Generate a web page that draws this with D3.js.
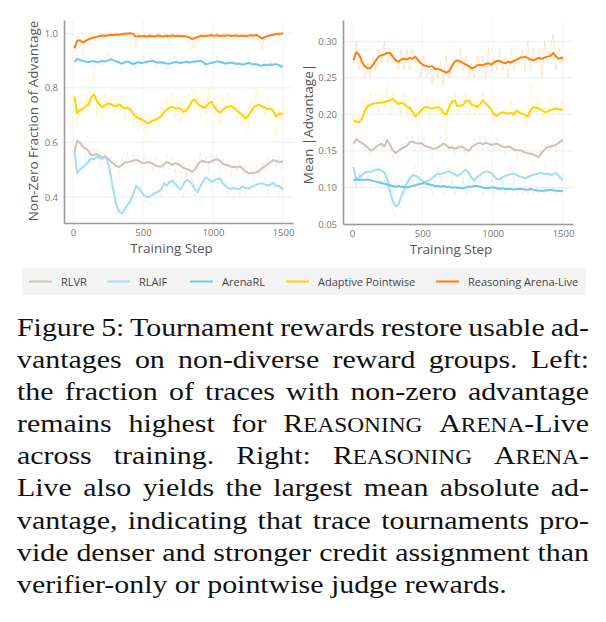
<!DOCTYPE html>
<html>
<head>
<meta charset="utf-8">
<script src="https://d3js.org/d3.v7.min.js"></script>
<style>
  body { margin: 0; background: #fff; }
</style>
</head>
<body>
<script>
// Two panels of training curves + legend + figure caption

// x grid shared by all series (every 20 steps, plus the last step)
const steps = d3.range(10, 1491, 20).concat([1500]);

const methods = ["RLVR", "RLAIF", "ArenaRL", "Adaptive Pointwise", "Reasoning Arena-Live"];
const colors  = ["#cfc2b9", "#a9dcec", "#74c6e9", "#ffd200", "#ff7f0e"];

// ---- Left panel: Non-Zero Fraction of Advantage (smoothed) ----
const fracRLVR = [0.565,0.605,0.6,0.584,0.578,0.568,0.553,0.555,0.558,0.55,
  0.546,0.548,0.541,0.53,0.522,0.513,0.51,0.518,0.526,0.528,
  0.53,0.533,0.535,0.532,0.527,0.524,0.528,0.526,0.522,0.516,
  0.512,0.512,0.52,0.528,0.523,0.518,0.524,0.521,0.514,0.506,
  0.503,0.5,0.492,0.5,0.518,0.53,0.532,0.528,0.526,0.531,
  0.536,0.538,0.532,0.522,0.518,0.516,0.51,0.511,0.508,0.512,
  0.506,0.494,0.488,0.487,0.489,0.49,0.496,0.505,0.512,0.52,
  0.528,0.535,0.533,0.527,0.529,0.53];
const fracRLAIF = [0.566,0.488,0.5,0.51,0.518,0.53,0.54,0.538,0.547,0.543,
  0.54,0.55,0.527,0.478,0.418,0.37,0.345,0.34,0.356,0.372,
  0.385,0.41,0.44,0.432,0.418,0.405,0.4,0.402,0.41,0.415,
  0.42,0.428,0.45,0.442,0.455,0.46,0.448,0.435,0.428,0.448,
  0.462,0.458,0.448,0.43,0.418,0.44,0.458,0.472,0.465,0.455,
  0.46,0.467,0.468,0.45,0.44,0.432,0.43,0.434,0.428,0.43,
  0.438,0.434,0.43,0.436,0.44,0.445,0.448,0.45,0.446,0.442,
  0.445,0.452,0.44,0.442,0.432,0.428];
const fracArena = [0.895,0.906,0.902,0.899,0.897,0.895,0.897,0.898,0.894,0.896,
  0.899,0.897,0.9,0.905,0.901,0.897,0.893,0.889,0.893,0.897,
  0.892,0.887,0.892,0.894,0.891,0.893,0.896,0.898,0.899,0.895,
  0.892,0.894,0.891,0.889,0.888,0.892,0.895,0.893,0.891,0.894,
  0.896,0.893,0.895,0.897,0.898,0.899,0.894,0.886,0.889,0.892,
  0.894,0.897,0.895,0.892,0.889,0.891,0.893,0.89,0.887,0.889,
  0.885,0.888,0.891,0.889,0.886,0.887,0.883,0.882,0.885,0.884,
  0.886,0.885,0.887,0.884,0.878,0.879];
const fracPointwise = [0.768,0.708,0.719,0.722,0.733,0.738,0.765,0.776,0.752,0.738,
  0.729,0.736,0.743,0.74,0.735,0.733,0.74,0.73,0.726,0.727,
  0.72,0.706,0.694,0.688,0.684,0.68,0.67,0.674,0.68,0.682,
  0.69,0.695,0.712,0.72,0.728,0.73,0.724,0.726,0.722,0.712,
  0.718,0.731,0.752,0.757,0.742,0.734,0.728,0.73,0.744,0.748,
  0.73,0.716,0.709,0.72,0.728,0.731,0.733,0.726,0.718,0.708,
  0.702,0.688,0.697,0.712,0.728,0.735,0.738,0.732,0.728,0.722,
  0.724,0.716,0.694,0.704,0.706,0.706];
const fracLive = [0.945,0.972,0.975,0.966,0.972,0.978,0.982,0.985,0.987,0.99,
  0.992,0.99,0.993,0.995,0.994,0.996,0.995,0.997,0.998,0.999,
  1.0,0.998,0.987,0.99,0.989,0.99,0.988,0.991,0.989,0.99,
  0.992,0.99,0.989,0.991,0.99,0.992,0.99,0.991,0.989,0.99,
  0.988,0.985,0.979,0.982,0.986,0.99,0.991,0.99,0.992,0.993,
  0.991,0.993,0.99,0.992,0.991,0.993,0.99,0.992,0.991,0.99,
  0.992,0.99,0.991,0.993,0.992,0.994,0.988,0.981,0.986,0.99,
  0.993,0.995,0.997,0.998,0.999,1.0];

// raw (unsmoothed) per-step values, drawn faint behind
const fracRLVRRaw = [.55,.62,.58,.6,.55,.6,.52,.58,.55,.58,
  .5,.57,.52,.55,.5,.53,.48,.55,.5,.56,
  .51,.56,.52,.55,.5,.56,.51,.54,.49,.55,
  .48,.54,.5,.56,.5,.55,.49,.54,.48,.53,
  .47,.52,.46,.54,.5,.56,.51,.55,.5,.56,
  .52,.56,.5,.54,.49,.54,.48,.53,.49,.54,
  .48,.52,.46,.5,.47,.52,.48,.53,.5,.55,
  .51,.56,.51,.55,.5,.54];
const fracRLAIFRaw = [.58,.46,.53,.48,.55,.5,.57,.52,.58,.51,
  .57,.52,.55,.44,.42,.33,.36,.31,.38,.34,
  .4,.37,.46,.41,.44,.38,.42,.37,.43,.39,
  .45,.4,.48,.41,.47,.43,.5,.41,.45,.4,
  .49,.44,.47,.4,.44,.38,.48,.44,.5,.42,
  .48,.43,.5,.42,.46,.4,.45,.39,.46,.4,
  .47,.4,.45,.41,.47,.42,.48,.43,.47,.41,
  .46,.42,.47,.4,.45,.41];
const fracArenaRaw = [.88,.92,.89,.91,.88,.9,.91,.87,.9,.92,
  .88,.91,.93,.89,.92,.88,.9,.86,.9,.91,
  .88,.9,.87,.91,.89,.92,.88,.91,.9,.87,
  .91,.88,.9,.87,.91,.89,.92,.88,.9,.91,
  .88,.9,.91,.89,.92,.88,.91,.86,.9,.91,
  .88,.92,.89,.9,.87,.91,.89,.88,.9,.87,
  .9,.88,.91,.87,.89,.9,.87,.88,.9,.86,
  .9,.88,.9,.87,.89,.86];
const fracPointwiseRaw = [.78,.66,.75,.7,.78,.72,.8,.86,.7,.76,
  .68,.78,.72,.77,.7,.76,.71,.75,.68,.74,
  .7,.66,.72,.64,.7,.65,.62,.7,.66,.71,
  .65,.73,.68,.76,.7,.78,.69,.76,.67,.74,
  .7,.78,.8,.72,.78,.69,.76,.7,.8,.72,
  .7,.75,.66,.77,.7,.78,.71,.75,.68,.73,
  .66,.72,.64,.76,.7,.8,.72,.76,.7,.75,
  .68,.74,.62,.72,.68,.74];
const fracLiveRaw = [.93,.99,.97,.92,.99,.98,1,.97,.99,1,
  .98,1,.99,1,.98,1,.99,1,1,.99,
  1,.99,.95,1,.98,1,.97,1,.99,.98,
  1,.98,1,.99,.97,1,.99,.98,1,.98,
  .99,.97,.94,.99,.97,1,.98,1,.99,1,
  .98,1,.99,.97,1,.99,1,.98,1,.99,
  .98,1,.99,1,.97,1,.97,.94,.99,.98,
  1,.99,1,.99,1,1];

// ---- Right panel: Mean |Advantage| (smoothed) ----
const absRLVR = [0.16,0.166,0.163,0.161,0.158,0.155,0.151,0.152,0.155,0.158,
  0.16,0.156,0.165,0.158,0.151,0.147,0.15,0.153,0.155,0.157,
  0.162,0.163,0.161,0.16,0.161,0.158,0.156,0.155,0.153,0.153,
  0.155,0.157,0.16,0.158,0.154,0.155,0.153,0.154,0.156,0.155,
  0.152,0.15,0.155,0.158,0.16,0.161,0.159,0.161,0.16,0.158,
  0.159,0.16,0.158,0.156,0.155,0.156,0.155,0.152,0.151,0.151,
  0.15,0.148,0.147,0.146,0.145,0.143,0.142,0.148,0.152,0.155,
  0.156,0.157,0.158,0.161,0.164,0.165];
const absRLAIF = [0.128,0.11,0.113,0.117,0.12,0.122,0.121,0.123,0.124,0.125,
  0.123,0.12,0.112,0.095,0.081,0.074,0.076,0.088,0.097,0.106,
  0.112,0.117,0.116,0.114,0.11,0.108,0.108,0.11,0.113,0.116,
  0.119,0.118,0.12,0.121,0.122,0.12,0.118,0.116,0.118,0.122,
  0.124,0.12,0.113,0.11,0.114,0.117,0.12,0.122,0.121,0.12,
  0.115,0.112,0.111,0.114,0.116,0.117,0.118,0.119,0.117,0.115,
  0.114,0.112,0.114,0.116,0.117,0.118,0.119,0.12,0.118,0.119,
  0.117,0.118,0.12,0.116,0.111,0.11];
const absArena = [0.11,0.111,0.11,0.111,0.11,0.111,0.11,0.109,0.108,0.107,
  0.106,0.105,0.104,0.103,0.102,0.101,0.102,0.101,0.101,0.1,
  0.101,0.102,0.103,0.104,0.105,0.106,0.105,0.104,0.103,0.102,
  0.102,0.101,0.102,0.101,0.101,0.1,0.1,0.1,0.099,0.099,
  0.1,0.101,0.101,0.102,0.102,0.101,0.1,0.099,0.099,0.1,
  0.1,0.099,0.098,0.099,0.098,0.098,0.098,0.097,0.098,0.098,
  0.098,0.097,0.097,0.098,0.097,0.096,0.096,0.095,0.096,0.096,
  0.097,0.096,0.096,0.095,0.095,0.096];
const absPointwise = [0.192,0.19,0.189,0.194,0.204,0.211,0.213,0.215,0.215,0.216,
  0.216,0.217,0.218,0.219,0.221,0.218,0.214,0.216,0.214,0.211,
  0.209,0.204,0.197,0.201,0.205,0.209,0.21,0.209,0.208,0.209,
  0.21,0.208,0.202,0.2,0.21,0.217,0.219,0.211,0.212,0.213,
  0.218,0.219,0.213,0.212,0.21,0.214,0.219,0.215,0.211,0.206,
  0.2,0.198,0.201,0.203,0.202,0.201,0.202,0.2,0.205,0.202,
  0.201,0.199,0.197,0.206,0.21,0.209,0.208,0.206,0.203,0.204,
  0.206,0.207,0.208,0.207,0.206,0.207];
const absLive = [0.274,0.285,0.282,0.272,0.266,0.263,0.263,0.268,0.274,0.279,
  0.281,0.282,0.284,0.284,0.279,0.274,0.272,0.275,0.276,0.275,
  0.277,0.276,0.279,0.274,0.27,0.267,0.266,0.265,0.266,0.262,
  0.262,0.261,0.259,0.257,0.259,0.266,0.272,0.274,0.272,0.27,
  0.268,0.266,0.263,0.264,0.267,0.268,0.267,0.269,0.27,0.268,
  0.271,0.273,0.273,0.271,0.27,0.272,0.271,0.273,0.275,0.277,
  0.278,0.279,0.277,0.275,0.274,0.276,0.277,0.276,0.278,0.279,
  0.28,0.284,0.279,0.276,0.277,0.278];

const absRLVRRaw = [.15,.17,.16,.17,.15,.16,.14,.16,.15,.17,
  .15,.17,.16,.17,.14,.15,.14,.16,.15,.17,
  .16,.17,.15,.17,.15,.17,.15,.16,.14,.16,
  .15,.17,.15,.17,.15,.16,.14,.16,.15,.16,
  .14,.16,.15,.17,.15,.17,.15,.17,.15,.16,
  .15,.17,.15,.16,.14,.16,.15,.16,.14,.16,
  .14,.16,.14,.15,.13,.15,.14,.16,.15,.16,
  .15,.17,.15,.17,.16,.17];
const absRLAIFRaw = [.13,.1,.12,.11,.13,.12,.13,.11,.13,.12,
  .13,.11,.12,.08,.07,.06,.08,.07,.1,.09,
  .12,.11,.13,.11,.12,.1,.11,.1,.12,.11,
  .13,.11,.13,.11,.13,.11,.12,.11,.12,.11,
  .13,.11,.12,.1,.12,.11,.13,.11,.13,.11,
  .12,.1,.12,.1,.12,.11,.13,.11,.12,.11,
  .12,.1,.12,.11,.13,.11,.12,.11,.13,.11,
  .12,.11,.13,.11,.12,.1];
const absArenaRaw = [.12,.1,.12,.1,.11,.12,.1,.11,.1,.12,
  .1,.11,.1,.11,.09,.11,.1,.11,.09,.11,
  .1,.11,.1,.11,.1,.11,.1,.11,.09,.11,
  .1,.11,.09,.1,.1,.11,.09,.1,.1,.11,
  .09,.11,.1,.11,.1,.11,.09,.1,.1,.11,
  .09,.1,.1,.11,.09,.1,.1,.11,.09,.1,
  .09,.1,.09,.1,.09,.1,.09,.1,.09,.1,
  .09,.1,.09,.1,.09,.1];
const absPointwiseRaw = [.2,.18,.2,.19,.22,.2,.23,.21,.22,.2,
  .23,.21,.24,.2,.23,.21,.22,.2,.23,.2,
  .21,.19,.2,.18,.21,.2,.22,.19,.21,.2,
  .22,.2,.21,.17,.22,.2,.23,.2,.22,.21,
  .23,.2,.22,.2,.21,.2,.23,.21,.22,.2,
  .19,.21,.2,.19,.21,.2,.22,.19,.21,.2,
  .21,.19,.2,.24,.21,.2,.22,.19,.21,.2,
  .22,.2,.21,.2,.22,.21];
const absLiveRaw = [.27,.3,.26,.28,.25,.27,.25,.28,.26,.29,
  .27,.3,.27,.29,.27,.28,.26,.29,.26,.29,
  .26,.29,.27,.28,.25,.28,.25,.27,.24,.27,
  .25,.27,.24,.28,.25,.27,.28,.26,.29,.26,
  .28,.25,.27,.25,.28,.26,.28,.25,.29,.26,
  .28,.26,.29,.26,.28,.25,.29,.26,.28,.27,
  .29,.26,.3,.26,.29,.27,.29,.25,.3,.27,
  .29,.31,.26,.29,.27,.28];

const xTicks = [0, 500, 1000, 1500];
const fracTicks = [0.4, 0.6, 0.8, 1.0];
const absTicks = [0.05, 0.10, 0.15, 0.20, 0.25, 0.30];

// Caption lines; [[...]] marks small caps
const captionLines = [
  "Figure 5: Tournament rewards restore usable ad-",
  "vantages on non-diverse reward groups. Left:",
  "the fraction of traces with non-zero advantage",
  "remains highest for [[Reasoning Arena]]-Live",
  "across training. Right: [[Reasoning Arena]]-",
  "Live also yields the largest mean absolute ad-",
  "vantage, indicating that trace tournaments pro-",
  "vide denser and stronger credit assignment than",
  "verifier-only or pointwise judge rewards."
];

const W = 606, H = 622;
const FONT = "'Open Sans', 'Noto Sans', sans-serif";
const SERIF = "'Liberation Serif', 'Times New Roman', serif";

const svg = d3.select("body").append("svg").attr("width", W).attr("height", H);

// draw one panel
function drawPanel(opts) {
  const x = d3.scaleLinear().domain(opts.xDomain).range([opts.left, opts.right]);
  const y = d3.scaleLinear().domain(opts.yDomain).range([opts.bottom, opts.top]);
  const g = svg.append("g");

  // faint grid
  g.selectAll(".hgrid").data(opts.yTicks).enter().append("line")
      .attr("x1", opts.left).attr("x2", opts.right)
      .attr("y1", d => y(d)).attr("y2", d => y(d))
      .attr("stroke", "#efefef").attr("stroke-width", 1);
  g.selectAll(".vgrid").data(xTicks).enter().append("line")
      .attr("x1", d => x(d)).attr("x2", d => x(d))
      .attr("y1", opts.top).attr("y2", opts.bottom)
      .attr("stroke", "#f3f3f3").attr("stroke-width", 1);

  const line = d3.line().x((d, i) => x(steps[i])).y(d => y(d));

  // raw lines first, then smoothed on top
  opts.raw.forEach((s, i) => {
    g.append("path").datum(s).attr("d", line)
        .attr("fill", "none").attr("stroke", colors[i])
        .attr("stroke-width", 0.9).attr("stroke-opacity", 0.2);
  });
  opts.smooth.forEach((s, i) => {
    g.append("path").datum(s).attr("d", line)
        .attr("fill", "none").attr("stroke", colors[i])
        .attr("stroke-width", 2).attr("stroke-linejoin", "round");
  });

  // axes (lines only, no tick marks)
  const yAxis = d3.axisLeft(y).tickValues(opts.yTicks).tickFormat(d3.format(opts.fmt))
      .tickSize(0).tickPadding(6);
  const yg = g.append("g").attr("transform", `translate(${opts.left},0)`).call(yAxis);
  const xAxis = d3.axisBottom(x).tickValues(xTicks).tickFormat(d3.format("d"))
      .tickSize(0).tickPadding(6);
  const xg = g.append("g").attr("transform", `translate(0,${opts.bottom})`).call(xAxis);
  [yg, xg].forEach(a => {
    a.select(".domain").attr("stroke", "#9a9a9a").attr("stroke-width", 1.6);
    a.selectAll("text").attr("fill", "#777").attr("font-size", 9.5).attr("font-family", FONT);
  });

  // axis titles
  g.append("text")
      .attr("x", (opts.left + opts.right) / 2 - 7).attr("y", opts.bottom + 30)
      .attr("text-anchor", "middle").attr("fill", "#555")
      .attr("font-family", FONT).attr("font-size", 13.5)
      .text("Training Step");
  g.append("text")
      .attr("transform", `translate(${opts.titleX},${opts.titleY}) rotate(-90)`)
      .attr("text-anchor", "middle").attr("fill", "#555")
      .attr("font-family", FONT).attr("font-size", 13.5)
      .text(opts.title);
}

drawPanel({
  left: 64, right: 293, top: 20, bottom: 223,
  xDomain: [-64.3, 1571.4], yDomain: [0.3046, 1.0488],
  yTicks: fracTicks, fmt: ".1f",
  raw: [fracRLVRRaw, fracRLAIFRaw, fracArenaRaw, fracPointwiseRaw, fracLiveRaw],
  smooth: [fracRLVR, fracRLAIF, fracArena, fracPointwise, fracLive],
  title: "Non-Zero Fraction of Advantage", titleX: 38, titleY: 121
});

drawPanel({
  left: 343, right: 573, top: 20, bottom: 224,
  xDomain: [-64, 1571], yDomain: [0.05, 0.3291],
  yTicks: absTicks, fmt: ".2f",
  raw: [absRLVRRaw, absRLAIFRaw, absArenaRaw, absPointwiseRaw, absLiveRaw],
  smooth: [absRLVR, absRLAIF, absArena, absPointwise, absLive],
  title: "Mean |Advantage|", titleX: 313, titleY: 124
});

// Legend
const legend = svg.append("g");
legend.append("rect").attr("x", 22).attr("y", 268).attr("width", 564).attr("height", 27)
    .attr("fill", "#f4f4f4");
const legendX = [29, 107, 190, 286, 436];
methods.forEach((m, i) => {
  legend.append("line")
      .attr("x1", legendX[i]).attr("x2", legendX[i] + 23)
      .attr("y1", 281.5).attr("y2", 281.5)
      .attr("stroke", colors[i]).attr("stroke-width", 2);
  legend.append("text")
      .attr("x", legendX[i] + 32).attr("y", 285.5)
      .attr("fill", "#444").attr("font-family", FONT).attr("font-size", 11)
      .text(m);
});

// Caption: justified serif lines (glyphs a bit wide, as in the paper scan)
const CAP_SIZE = 26, CAP_SX = 1.15, CAP_LEFT = 17, CAP_WIDTH = 572;
const CAP_TOP = 336, CAP_STEP = 32.1;
const capG = svg.append("g").attr("transform", `translate(${CAP_LEFT},0) scale(${CAP_SX},1)`);

captionLines.forEach((ln, i) => {
  const t = capG.append("text")
      .attr("x", 0).attr("y", CAP_TOP + i * CAP_STEP)
      .attr("font-family", SERIF).attr("font-size", CAP_SIZE).attr("fill", "#111");
  // split into normal / small-caps pieces
  ln.split(/(\[\[.*?\]\])/).forEach(piece => {
    if (!piece) return;
    if (piece.startsWith("[[")) {
      piece.slice(2, -2).split(" ").forEach((w, k) => {
        if (k > 0) t.append("tspan").text(" ");
        t.append("tspan").text(w[0]);
        t.append("tspan").attr("font-size", CAP_SIZE * 0.78).text(w.slice(1).toUpperCase());
      });
    } else {
      t.append("tspan").text(piece);
    }
  });
  if (i < captionLines.length - 1) {
    const natural = t.node().getComputedTextLength();
    const spaces = (ln.match(/ /g) || []).length;
    const ws = (CAP_WIDTH / CAP_SX - natural) / spaces;
    t.style("word-spacing", ws + "px");
  }
});
</script>
</body>
</html>
